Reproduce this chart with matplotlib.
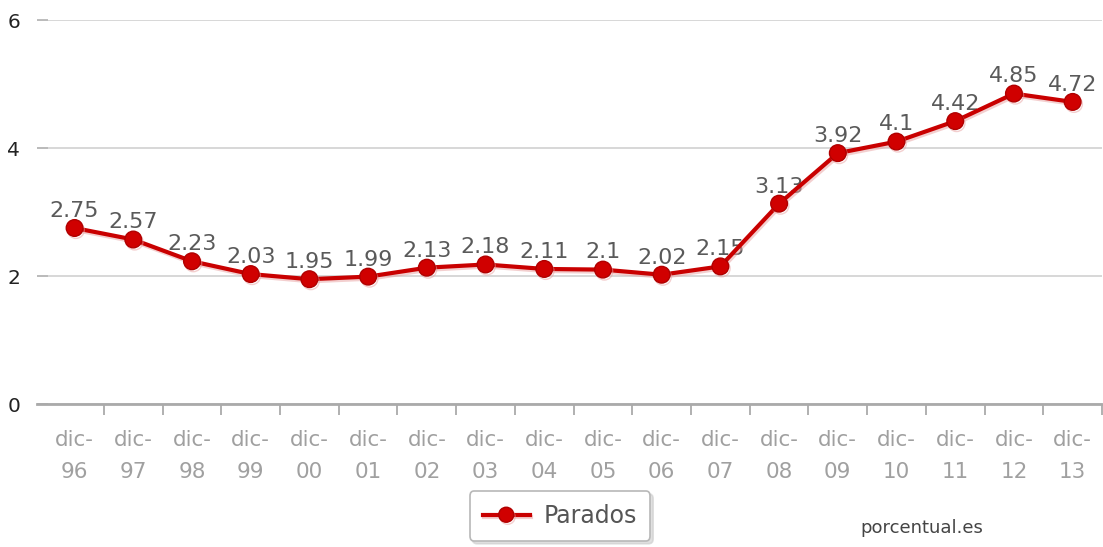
import matplotlib
matplotlib.use("Agg")
import matplotlib.pyplot as plt
import matplotlib.patheffects as pe
from matplotlib.ticker import FixedLocator

categories = ["dic-\n96", "dic-\n97", "dic-\n98", "dic-\n99", "dic-\n00", "dic-\n01",
              "dic-\n02", "dic-\n03", "dic-\n04", "dic-\n05", "dic-\n06", "dic-\n07",
              "dic-\n08", "dic-\n09", "dic-\n10", "dic-\n11", "dic-\n12", "dic-\n13"]
values = [2.75, 2.57, 2.23, 2.03, 1.95, 1.99, 2.13, 2.18, 2.11, 2.1, 2.02, 2.15,
          3.13, 3.92, 4.1, 4.42, 4.85, 4.72]
value_labels = ["2.75", "2.57", "2.23", "2.03", "1.95", "1.99", "2.13", "2.18", "2.11",
                "2.1", "2.02", "2.15", "3.13", "3.92", "4.1", "4.42", "4.85", "4.72"]
yticks = [0, 2, 4, 6]
series_name = "Parados"

plt.rcParams['font.family'] = ['DejaVu Sans']

fig = plt.figure(figsize=(11.03, 5.47), dpi=100)
ax = fig.add_axes([37/1103, 143/547, 1065/1103, 384/547])

x = list(range(len(values)))
red = "#c90000"
ax.plot(x, values, color=red, linewidth=3, marker="o", markersize=12,
        markerfacecolor="#d00000", markeredgecolor="#b00000", markeredgewidth=1,
        zorder=3, label=series_name,
        path_effects=[pe.SimpleLineShadow(offset=(1, -1.5), shadow_color="#e8a0a0", alpha=0.5), pe.Normal()])

for xi, v, lab in zip(x, values, value_labels):
    ax.annotate(lab, (xi, v), xytext=(0, 8), textcoords="offset points",
                ha="center", va="baseline", fontsize=16, color="#5a5a5a", zorder=2)

ax.set_xlim(-0.64, len(values) - 0.5)
ax.set_ylim(0, 6)

ax.set_yticks(yticks)
ax.set_yticklabels([str(t) for t in yticks], fontsize=14.5, color="#222222")
ax.yaxis.grid(True, color="#d4d4d4", linewidth=1.3)
ax.set_axisbelow(True)
ax.tick_params(axis="y", direction="in", length=8, width=1.3, color="#b8b8b8", pad=12)

ax.set_xticks(x)
ax.set_xticklabels(categories, fontsize=15.5, color="#a0a0a0", linespacing=1.75)
ax.tick_params(axis="x", which="major", length=0, pad=19)
ax.xaxis.set_minor_locator(FixedLocator([i + 0.5 for i in range(len(values))]))
ax.tick_params(axis="x", which="minor", direction="out", length=8, width=1.3, color="#aaaaaa")

for s in ["top", "right", "left"]:
    ax.spines[s].set_visible(False)
ax.spines["bottom"].set_color("#aaaaaa")
ax.spines["bottom"].set_linewidth(2)

leg = fig.legend(loc="center", bbox_to_anchor=(560/1103, 31/547), fontsize=17,
                 frameon=True, fancybox=True, handlelength=2.0, borderpad=0.55,
                 borderaxespad=0, handletextpad=0.6, edgecolor="#b8b8b8",
                 labelcolor="#555555", markerscale=0.9,
                 shadow={"color": "#cccccc", "alpha": 0.6})
leg.get_frame().set_linewidth(1.2)

fig.text(922/1103, 10/547, "porcentual.es", ha="center", va="bottom",
         fontsize=13, color="#444444")

fig.savefig("out.png", dpi=100)
